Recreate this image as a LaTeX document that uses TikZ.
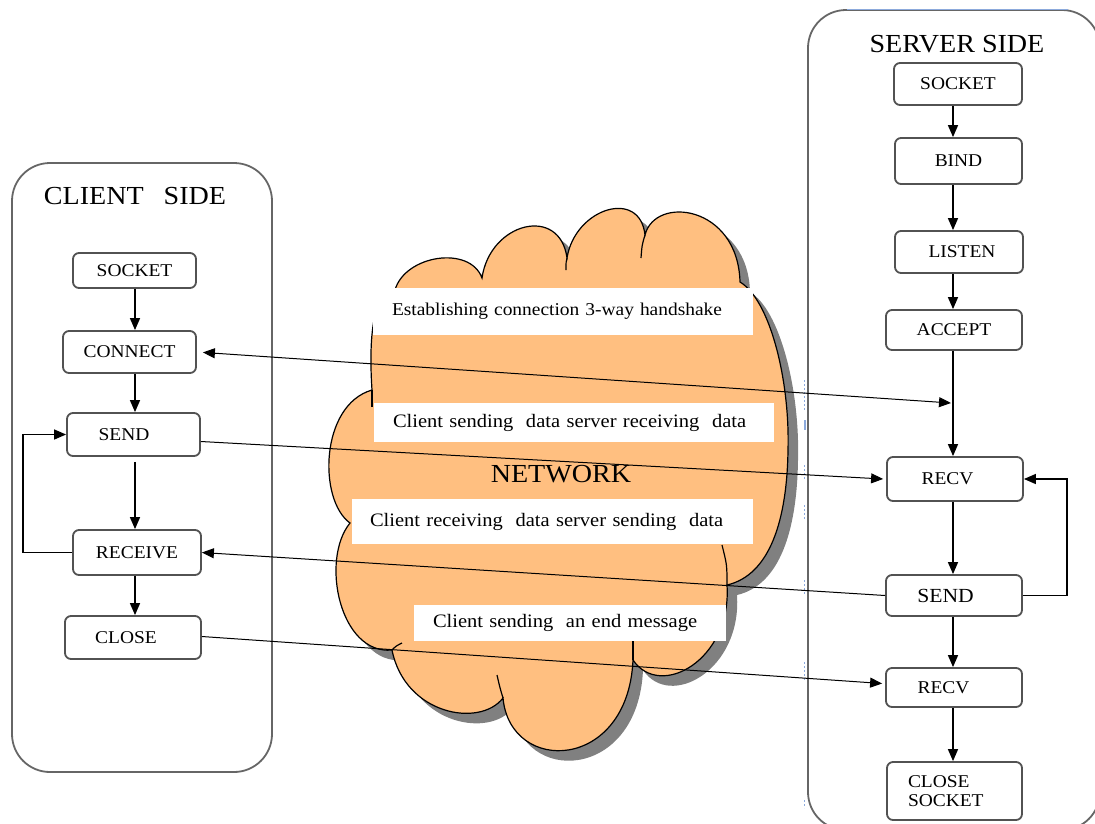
\documentclass[tikz,border=0pt]{standalone}
\usepackage{fontspec}
\setmainfont[FakeStretch=1.08]{Liberation Serif}
\usetikzlibrary{arrows.meta,calc}
\definecolor{cloudfill}{RGB}{255,191,128}
\definecolor{shadowgray}{RGB}{128,128,128}
\definecolor{anchorblue}{RGB}{140,170,220}
\begin{document}
\begin{tikzpicture}[x=1pt,y=-1pt,
  box/.style={draw=black!68, line width=1.8pt, rounded corners=6pt, inner sep=0pt, fill=white, font=\fontsize{18}{19}\selectfont},
  container/.style={draw=black!60, line width=1.8pt, rounded corners=38pt},
  flow/.style={-{Triangle[length=12pt,width=10pt]}, line width=1.4pt},
  link/.style={-{Triangle[length=12pt,width=10pt]}, line width=1pt},
  tag/.style={fill=white, inner ysep=0pt, inner xsep=19pt, align=left, font=\fontsize{19}{21}\selectfont},
  title/.style={font=\fontsize{26}{28}\selectfont, inner sep=0pt},
  cloudline/.style={draw=black, line width=1.2pt},
]
\useasboundingbox (0,0) rectangle (1095,823);
\clip (0,0) rectangle (1095,823);

% containers
\draw[container] (12,163) rectangle (272,772);
\draw[container] (808,10) rectangle (1100,830);
\draw[anchorblue, line width=1pt] (847,9) -- (1068,9);
\foreach \a/\b in {380/410, 465/480, 505/520, 580/595, 662/680, 800/808}
  \draw[anchorblue, line width=1pt, dash pattern=on 2pt off 2pt] (804,\a) -- (804,\b);
\draw[anchorblue, line width=2pt] (805,420) -- (805,430);

% cloud
\def\cloudpath{(372,390) .. controls (368,330) and (375,290) .. (395,290)
 .. controls (405,255) and (470,245) .. (482,278)
 .. controls (490,222) and (560,205) .. (567,258)
 .. controls (575,208) and (640,188) .. (645,235)
 .. controls (655,195) and (738,205) .. (740,282)
 .. controls (770,300) and (790,380) .. (788,450)
 .. controls (787,520) and (770,575) .. (727,585)
 .. controls (732,660) and (660,700) .. (633,660)
 .. controls (628,772) and (510,775) .. (503,698)
 .. controls (480,728) and (405,715) .. (392,650)
 .. controls (340,655) and (320,560) .. (350,523)
 .. controls (318,500) and (320,405) .. (372,390) -- cycle}
\begin{scope}[shift={(10,10)}]
  \fill[shadowgray] \cloudpath;
\end{scope}
\path[cloudline, fill=cloudfill] \cloudpath;
\draw[cloudline] (567,258) .. controls (566,262) .. (566,270);
\draw[cloudline] (645,235) .. controls (642,245) .. (641,258);
\draw[cloudline] (727,585) .. controls (727,565) .. (722,545);
\draw[cloudline] (633,660) -- (633,641);
\draw[cloudline] (503,698) .. controls (500,688) .. (497,675);
\draw[cloudline] (392,650) .. controls (396,646) .. (402,643);
\draw[cloudline] (372,390) -- (372,407);

% cloud labels
\node[tag, text width=342pt, minimum height=47pt, font=\fontsize{18}{20}\selectfont] (l1) at (563,311.5) {\mbox{Establishing connection 3-way handshake}};
\node[tag, text width=362pt, minimum height=39pt] (l2) at (574,422.5) {\mbox{Client sending\ \ data server receiving\ \ data}};
\node[tag, text width=365pt, minimum height=45pt, inner xsep=18pt] (l3) at (552.5,521.5) {\mbox{Client receiving\ \ data server sending\ \ data}};
\node[tag, text width=274pt, minimum height=36pt] (l4) at (570,623) {\mbox{Client sending\ \ an end message}};
\node[title] (net) at (561,474) {NETWORK};

% titles
\node[title] (ctitle) at (135,196) {CLIENT\hspace{0.5em} SIDE};
\node[title] (stitle) at (957,44) {SERVER SIDE};

% client boxes
\node[box, minimum width=123pt, minimum height=35pt] (csock) at (134.5,270.5) {SOCKET};
\node[box, minimum width=133pt, minimum height=42pt] (cconn) at (129.5,352) {CONNECT};
\node[box, minimum width=133pt, minimum height=43pt] (csend) at (133.5,434.5) {SEND\hspace*{19pt}};
\node[box, minimum width=128pt, minimum height=45pt] (crecv) at (137,552.5) {RECEIVE};
\node[box, minimum width=136pt, minimum height=43pt] (cclose) at (133,637.5) {CLOSE\hspace*{14pt}};

% server boxes
\node[box, minimum width=128pt, minimum height=42pt] (ssock) at (958,84) {SOCKET};
\node[box, minimum width=127pt, minimum height=46pt] (sbind) at (958.5,161) {BIND};
\node[box, minimum width=128pt, minimum height=42pt] (slisten) at (959,252) {\hspace*{6pt}LISTEN};
\node[box, minimum width=136pt, minimum height=40pt] (saccept) at (954,330) {ACCEPT};
\node[box, minimum width=136pt, minimum height=44pt] (srecv1) at (955,479) {RECV\hspace*{15pt}};
\node[box, minimum width=136pt, minimum height=41pt, font=\fontsize{20}{21}\selectfont] (ssend) at (954,595.5) {SEND\hspace*{17pt}};
\node[box, minimum width=136pt, minimum height=39pt] (srecv2) at (954,687.5) {RECV\hspace*{21pt}};
\node[box, minimum width=135pt, minimum height=58pt, text width=93pt, align=left] (sclose) at (954.5,791) {CLOSE\\SOCKET};

\coordinate (cspine) at (135,0);
\coordinate (sspine) at (953,0);
\coordinate (hs) at (951,403);

% client flow
\draw[flow] (csock.south -| cspine) -- (cconn.north -| cspine);
\draw[flow] (cconn.south -| cspine) -- (csend.north -| cspine);
\draw[flow] ($(csend.south -| cspine)+(0,5)$) -- (crecv.north -| cspine);
\draw[flow] (crecv.south -| cspine) -- (cclose.north -| cspine);
\draw[flow] (crecv.west) -- ++(-49,0) |- (csend.west);

% server flow
\draw[flow] (ssock.south -| sspine) -- (sbind.north -| sspine);
\draw[flow] (sbind.south -| sspine) -- (slisten.north -| sspine);
\draw[flow] (slisten.south -| sspine) -- (saccept.north -| sspine);
\draw[flow] (saccept.south -| sspine) -- (srecv1.north -| sspine);
\draw[flow] (srecv1.south -| sspine) -- (ssend.north -| sspine);
\draw[flow] (ssend.south -| sspine) -- (srecv2.north -| sspine);
\draw[flow] (srecv2.south -| sspine) -- (sclose.north -| sspine);
\draw[flow] (ssend.east) -- ++(44,0) |- (srecv1.east);

% links across the network
\draw[{Triangle[length=12pt,width=10pt]}-{Triangle[length=12pt,width=10pt]}, line width=1pt, shorten <=6pt] (cconn.east) -- (hs);
\draw[link] ($(csend.east)+(0,7)$) -- ($(srecv1.west)+(-3,0)$);
\draw[link] (ssend.west) -- (crecv.east);
\draw[link] ($(cclose.east)+(0,-1)$) -- ($(srecv2.west)+(-3,-4)$);
\end{tikzpicture}
\end{document}
